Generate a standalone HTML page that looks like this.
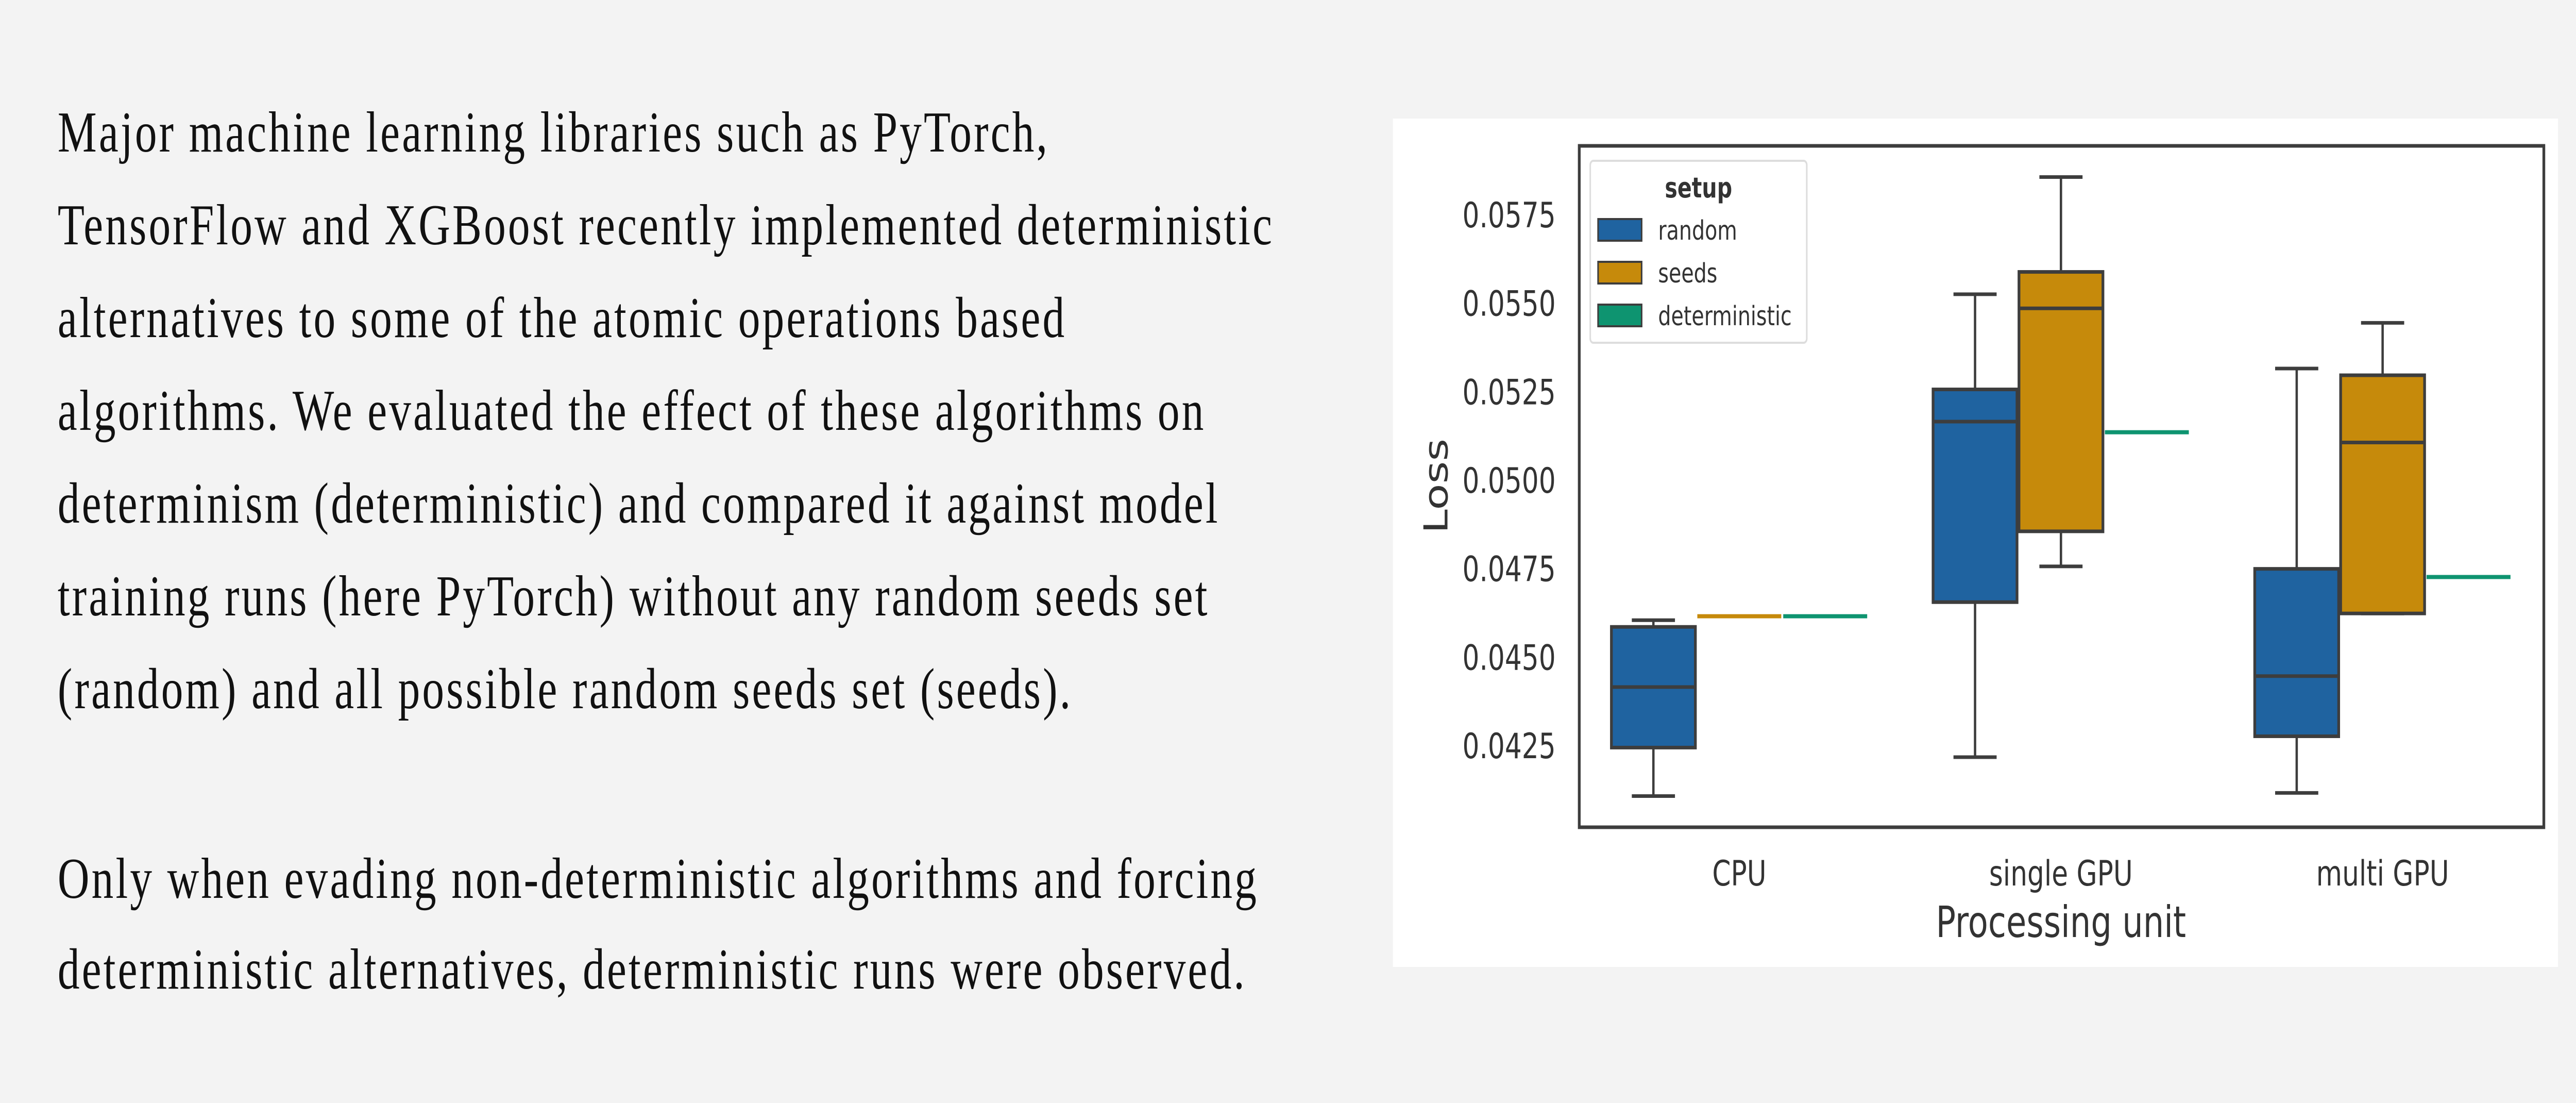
<!DOCTYPE html>
<html><head><meta charset="utf-8">
<style>
html,body{margin:0;padding:0;background:#f3f3f3;overflow:hidden;}
#chart{display:block;width:100vw;height:100vh;}
</style></head>
<body>
<svg id="chart" viewBox="0 0 6567 2140" preserveAspectRatio="none" xmlns="http://www.w3.org/2000/svg">
<rect x="0" y="0" width="6567" height="2140" fill="#f3f3f3"/>
<g font-family="Liberation Serif, serif" font-size="112" fill="#111" letter-spacing="5.5">
<text x="147" y="294">Major machine learning libraries such as PyTorch,</text>
<text x="147" y="474">TensorFlow and XGBoost recently implemented deterministic</text>
<text x="147" y="654">alternatives to some of the atomic operations based</text>
<text x="147" y="834">algorithms. We evaluated the effect of these algorithms on</text>
<text x="147" y="1014">determinism (deterministic) and compared it against model</text>
<text x="147" y="1194">training runs (here PyTorch) without any random seeds set</text>
<text x="147" y="1374">(random) and all possible random seeds set (seeds).</text>
<text x="147" y="1742">Only when evading non-deterministic algorithms and forcing</text>
<text x="147" y="1918">deterministic alternatives, deterministic runs were observed.</text>
</g>
<g>
<rect x="3551" y="230" width="2970" height="1646" fill="#ffffff"/>
<g id="marks"></g>
<rect x="4026" y="283" width="2459" height="1322" fill="none" stroke="#3d3d3d" stroke-width="7"/>
<g id="ticks" font-family="DejaVu Sans, sans-serif" font-size="68" fill="#333"></g>
<text x="5254" y="1818" text-anchor="middle" font-family="DejaVu Sans, sans-serif" font-size="84" fill="#333">Processing unit</text>
<text transform="translate(3690,943) rotate(-90)" text-anchor="middle" font-family="DejaVu Sans, sans-serif" font-size="84" fill="#333">Loss</text>
<g>
<rect x="4054" y="312" width="552" height="353" rx="8" fill="#fff" stroke="#dddddd" stroke-width="4"/>
<text x="4330" y="383" text-anchor="middle" font-family="DejaVu Sans, sans-serif" font-size="54" font-weight="bold" fill="#333">setup</text>
<g id="legend-entries" font-family="DejaVu Sans, sans-serif" font-size="52" fill="#333"></g>
</g>
</g>
</svg>
<script>
const categories = ["CPU", "single GPU", "multi GPU"];
const hues = ["random", "seeds", "deterministic"];
const hueColors = ["#1f63a0", "#c68a0b", "#0e9470"];
const yTicks = [0.0425, 0.0450, 0.0475, 0.0500, 0.0525, 0.0550, 0.0575];
const yTickLabels = ["0.0425", "0.0450", "0.0475", "0.0500", "0.0525", "0.0550", "0.0575"];
// each box: [whiskerLow, q1, median, q3, whiskerHigh]
const randomBoxes = [[0.04108, 0.04245, 0.04416, 0.04586, 0.04605], [0.04218, 0.04656, 0.05166, 0.05257, 0.05526], [0.04117, 0.04277, 0.04447, 0.04750, 0.05316]];
const seedsBoxes = [[0.04616, 0.04616, 0.04616, 0.04616, 0.04616], [0.04757, 0.04856, 0.05486, 0.05589, 0.05857], [0.04624, 0.04624, 0.05107, 0.05297, 0.05445]];
const deterministicBoxes = [[0.04616, 0.04616, 0.04616, 0.04616, 0.04616], [0.05136, 0.05136, 0.05136, 0.05136, 0.05136], [0.04727, 0.04727, 0.04727, 0.04727, 0.04727]];
const allBoxes = [randomBoxes, seedsBoxes, deterministicBoxes];

const NS = "http://www.w3.org/2000/svg";
function y(v){ return 417 + (0.0575 - v) * 68667; }
function xCat(i){ return 4434 + i * 820; }
const slot = 219;
function xHue(c, h){ return xCat(c) + (h - 1) * slot; }
function mk(tag, attrs, parent){ const e = document.createElementNS(NS, tag); for (const k in attrs) e.setAttribute(k, attrs[k]); parent.appendChild(e); return e; }
const marks = document.getElementById("marks");
const line = "#3d3d3d";
for (let h = 0; h < 3; h++) {
  for (let c = 0; c < 3; c++) {
    const b = allBoxes[h][c];
    const cx = xHue(c, h), w = 214, cw = 110;
    const g = mk("g", {}, marks);
    
    
    if (b[4] - b[0] < 1e-6) {
      mk("line", {x1: cx - w/2, x2: cx + w/2, y1: y(b[2]), y2: y(b[2]), stroke: hueColors[h], "stroke-width": 8}, g);
      continue;
    }
    mk("line", {x1: cx, x2: cx, y1: y(b[3]), y2: y(b[4]), stroke: line, "stroke-width": 6}, g);
    mk("line", {x1: cx, x2: cx, y1: y(b[1]), y2: y(b[0]), stroke: line, "stroke-width": 6}, g);
    mk("line", {x1: cx - cw/2, x2: cx + cw/2, y1: y(b[4]), y2: y(b[4]), stroke: line, "stroke-width": 7}, g);
    mk("line", {x1: cx - cw/2, x2: cx + cw/2, y1: y(b[0]), y2: y(b[0]), stroke: line, "stroke-width": 7}, g);
    mk("rect", {x: cx - w/2, y: y(b[3]), width: w, height: y(b[1]) - y(b[3]), fill: hueColors[h], stroke: line, "stroke-width": 7}, g);
    mk("line", {x1: cx - w/2, x2: cx + w/2, y1: y(b[2]), y2: y(b[2]), stroke: line, "stroke-width": 7}, g);
  }
}
const ticks = document.getElementById("ticks");
yTicks.forEach((v, i) => {
  const t = mk("text", {x: 3966, y: y(v) + 24, "text-anchor": "end"}, ticks);
  t.textContent = yTickLabels[i];
  
  
});
categories.forEach((c, i) => {
  const t = mk("text", {x: xCat(i), y: 1718, "text-anchor": "middle"}, ticks);
  t.textContent = c;
  
  
});
const le = document.getElementById("legend-entries");
hues.forEach((h, i) => {
  const top = 425 + i * 83;
  const r = mk("rect", {x: 4074, y: top, width: 111, height: 42, fill: hueColors[i], stroke: line, "stroke-width": 4}, le);
  
  
  const t = mk("text", {x: 4227, y: top + 40}, le);
  t.textContent = h;
  
  
});
</script>
</body></html>
